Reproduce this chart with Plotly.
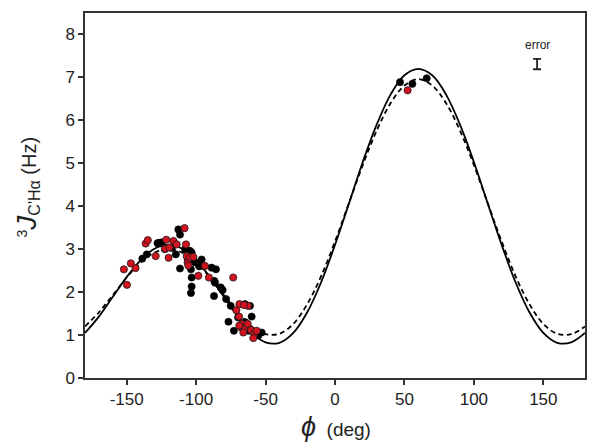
import plotly.graph_objects as go

# Karplus curves (phi in degrees, J in Hz)
phi_curve = list(range(-180, 181, 10))
J_solid = [1.05, 1.43, 1.89, 2.35, 2.74, 3.01, 3.10, 3.01, 2.74, 2.35,
           1.89, 1.43, 1.05, 0.83, 0.82, 1.05, 1.53, 2.23, 3.10, 4.06,
           5.03, 5.90, 6.60, 7.05, 7.20, 7.05, 6.60, 5.90, 5.03, 4.06,
           3.10, 2.23, 1.53, 1.05, 0.82, 0.83, 1.05]
J_dashed = [1.20, 1.53, 1.93, 2.34, 2.69, 2.92, 3.01, 2.92, 2.69, 2.34,
            1.93, 1.53, 1.20, 1.02, 1.03, 1.26, 1.72, 2.37, 3.18, 4.07,
            4.96, 5.76, 6.40, 6.81, 6.96, 6.81, 6.40, 5.76, 4.96, 4.07,
            3.18, 2.37, 1.72, 1.26, 1.03, 1.02, 1.20]

# Black data points
phi_black = [-138.7, -135.5, -127.8, -126.5, -124.7, -122.5, -117.6, -114.6, -112.8, -111.6,
             -111.6, -108.0, -105.6, -104.4, -103.2, -102.7, -103.7, -103.2, -103.2, -103.7,
             -100.8, -98.4, -97.7, -96.0, -88.8, -85.7, -86.9, -86.4, -82.3, -80.9,
             -87.1, -78.4, -75.1, -76.7, -72.8, -69.8, -64.8, -61.2, -60.0, -64.8,
             -63.6, -61.9, -55.2, -52.8, -106.0, -101.0, -105.0, 46.8, 55.7, 66.0]
J_black = [2.78, 2.88, 3.14, 3.15, 3.16, 3.00, 3.03, 2.88, 3.46, 3.34,
           2.55, 3.00, 2.96, 2.96, 2.92, 2.76, 2.53, 2.34, 2.13, 1.98,
           2.70, 2.65, 2.60, 2.76, 2.57, 2.53, 2.26, 2.22, 2.11, 2.05,
           1.91, 1.84, 1.68, 1.31, 1.10, 1.41, 1.72, 1.68, 1.43, 1.30,
           1.20, 1.10, 0.99, 1.06, 2.75, 2.70, 2.85, 6.89, 6.85, 6.98]

# Red data points
phi_red = [-152.0, -149.8, -147.0, -143.6, -136.3, -134.8, -129.1, -121.5, -122.3, -119.8,
           -119.2, -116.3, -114.0, -108.3, -107.3, -106.8, -106.1, -105.6, -104.4, -102.0,
           -98.4, -93.6, -90.8, -73.3, -71.0, -68.8, -62.7, -65.5, -69.1, -67.2,
           -67.7, -65.3, -62.9, -60.5, -58.1, -58.8, -66.0, -56.4, -68.9, 52.3]
J_red = [2.53, 2.17, 2.67, 2.56, 3.13, 3.21, 2.84, 3.22, 3.01, 2.80,
         3.04, 3.19, 3.11, 3.49, 3.11, 2.84, 2.69, 2.62, 2.81, 2.82,
         2.38, 2.61, 2.34, 2.34, 1.58, 1.72, 1.68, 1.70, 1.43, 1.26,
         1.18, 1.14, 1.26, 1.12, 1.04, 0.93, 1.06, 1.10, 1.22, 6.70]

# Error indicator
err_phi = [145.5]
err_J = [7.31]
err_size = [0.12]

x_ticks = [-150, -100, -50, 0, 50, 100, 150]
x_ticktext = ["-150", "-100", "-50", "0", "50", "100", "150"]
y_ticks = [0, 1, 2, 3, 4, 5, 6, 7, 8]

FONT = "Liberation Sans, Arial, sans-serif"
AXC = "#333333"
TXT = "#222222"

fig = go.Figure()
fig.add_trace(go.Scatter(x=phi_curve, y=J_dashed, mode="lines", line_shape="spline",
                         line=dict(color="black", width=1.8, dash="5px,3.5px"), hoverinfo="skip"))
fig.add_trace(go.Scatter(x=phi_curve, y=J_solid, mode="lines", line_shape="spline",
                         line=dict(color="black", width=1.8), hoverinfo="skip"))
fig.add_trace(go.Scatter(x=phi_black, y=J_black, mode="markers",
                         marker=dict(size=7.2, color="black", line=dict(color="black", width=0.6))))
fig.add_trace(go.Scatter(x=phi_red, y=J_red, mode="markers",
                         marker=dict(size=7.2, color="#d3121f", line=dict(color="#1a1a1a", width=0.8))))
fig.add_trace(go.Scatter(x=err_phi, y=err_J, mode="markers",
                         marker=dict(size=1, color="rgba(0,0,0,0)"),
                         error_y=dict(type="data", array=err_size, visible=True,
                                      color=TXT, thickness=1.8, width=4)))

fig.update_layout(
    width=600, height=447,
    margin=dict(l=85, r=15, t=11, b=69),
    paper_bgcolor="white", plot_bgcolor="white",
    showlegend=False,
    font=dict(family=FONT, color=TXT, size=17),
    xaxis=dict(range=[-180, 180], tickvals=x_ticks, ticktext=x_ticktext, ticks="outside",
               ticklen=5, tickwidth=1.5, tickcolor=AXC, showline=True, linecolor=AXC,
               linewidth=1.5, mirror=True, showgrid=False, zeroline=False,
               tickfont=dict(family=FONT, size=17, color=TXT)),
    yaxis=dict(range=[0, 8.5], tickvals=y_ticks, ticks="outside", ticklen=5,
               tickwidth=1.5, tickcolor=AXC, showline=True, linecolor=AXC, linewidth=1.5,
               mirror=True, showgrid=False, zeroline=False,
               tickfont=dict(family=FONT, size=17, color=TXT)),
    annotations=[
        dict(xref="paper", yref="paper", x=-0.116, y=0.522, textangle=-90,
             xanchor="center", yanchor="middle", showarrow=False,
             text="<sup><span style='font-size:14px'>3</span></sup>"
                  "<i><span style='font-size:28px'>J</span></i>"
                  "<sub><span style='font-size:16px'>C'Hα</span></sub> (Hz)",
             font=dict(family=FONT, size=20, color=TXT)),
        dict(xref="paper", yref="paper", x=0.502, y=-0.1335,
             xanchor="center", yanchor="middle", showarrow=False,
             text="<i><span style='font-size:27px'>ϕ</span></i>  (deg)",
             font=dict(family=FONT, size=19, color=TXT)),
        dict(xref="x", yref="y", x=145.5, y=7.75, xanchor="center", yanchor="middle",
             showarrow=False, text="error",
             font=dict(family=FONT, size=12, color=TXT)),
    ],
)

fig.write_html("out.html", config={"displayModeBar": False},
               post_script="document.body.style.margin='0';")
